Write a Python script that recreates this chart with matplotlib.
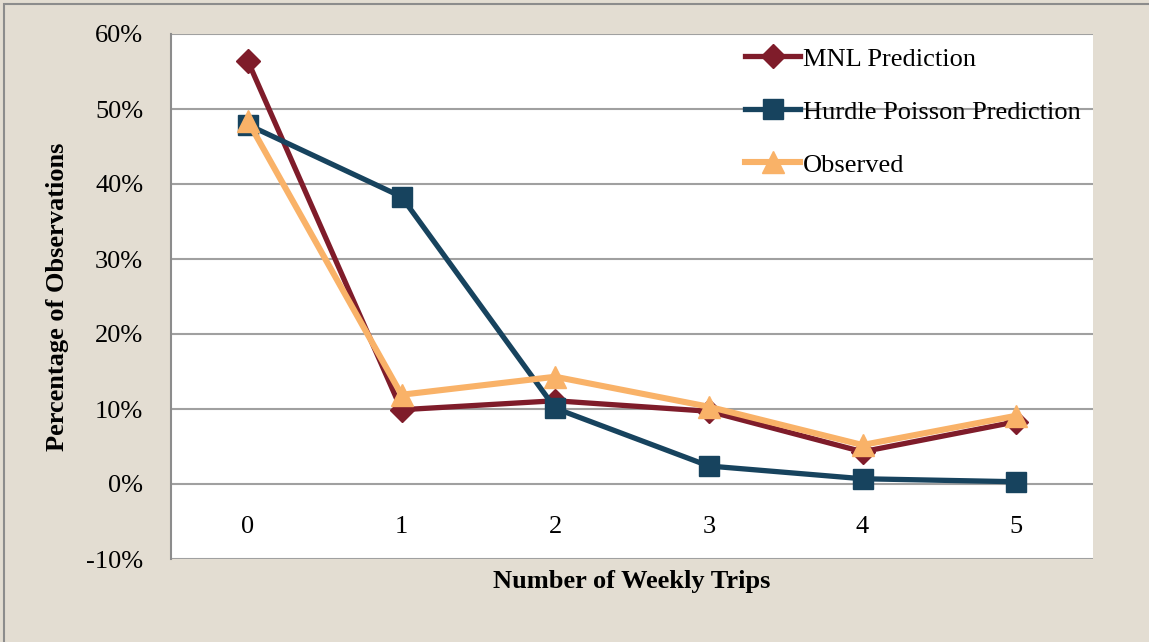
import matplotlib.pyplot as plt
from matplotlib.patches import Rectangle
from matplotlib.ticker import FuncFormatter

# weekly trip counts and share of observations (%)
trips = [0, 1, 2, 3, 4, 5]
mnl = [56.4, 9.9, 11.1, 9.7, 4.3, 8.3]
hurdle = [47.9, 38.3, 10.1, 2.4, 0.7, 0.3]
observed = [48.4, 11.9, 14.3, 10.3, 5.2, 9.1]

plt.rcParams['font.family'] = ['Liberation Serif', 'DejaVu Serif']
fs = 19

fig = plt.figure(figsize=(11.49, 6.42), dpi=100)
fig.patch.set_facecolor('#E3DDD2')
# outer frame of the chart area
fig.patches.append(Rectangle((4 / 1149, -0.1), 1.2, 1.1 - 4 / 642, transform=fig.transFigure,
                             fill=False, edgecolor='#8C8C8C', linewidth=1.5))

ax = fig.add_axes([171 / 1149, 1 - 559 / 642, (1093 - 171) / 1149, (559 - 34) / 642])
ax.set_facecolor('white')

ax.plot(trips, mnl, color='#7F1C2A', lw=3.8, marker='D', ms=12, label='MNL Prediction')
ax.plot(trips, hurdle, color='#17435E', lw=3.8, marker='s', ms=15, label='Hurdle Poisson Prediction')
ax.plot(trips, observed, color='#F9B268', lw=4.4, marker='^', ms=16, label='Observed')

ax.set_xlim(-0.5, 5.5)
ax.set_ylim(-10, 60)
ax.set_yticks(range(-10, 61, 10))
ax.yaxis.set_major_formatter(FuncFormatter(lambda v, p: '%d%%' % v))
ax.set_xticks([])
ax.grid(axis='y', color='#A0A0A0', lw=1.5)
ax.set_axisbelow(True)
ax.tick_params(axis='y', length=0, pad=20, labelsize=fs)
for s in ['top', 'right', 'bottom']:
    ax.spines[s].set_visible(False)
ax.spines['left'].set_color('#8C8C8C')
ax.spines['left'].set_linewidth(1.5)

# category labels sit just under the 0% line
for t in trips:
    ax.annotate(str(t), xy=(t, 0), xytext=(0, -31), textcoords='offset points',
                ha='center', va='center', fontsize=fs)

ax.set_ylabel('Percentage of Observations', fontsize=fs, fontweight='bold', labelpad=12)
ax.set_xlabel('Number of Weekly Trips', fontsize=fs, fontweight='bold', labelpad=8)

ax.legend(loc='upper left', bbox_to_anchor=(0.6226, 0.975), frameon=False, fontsize=fs,
          handlelength=2.1, handletextpad=0.1, labelspacing=1.12, borderaxespad=0,
          borderpad=0)

fig.savefig('out.png', dpi=100, facecolor=fig.get_facecolor())
